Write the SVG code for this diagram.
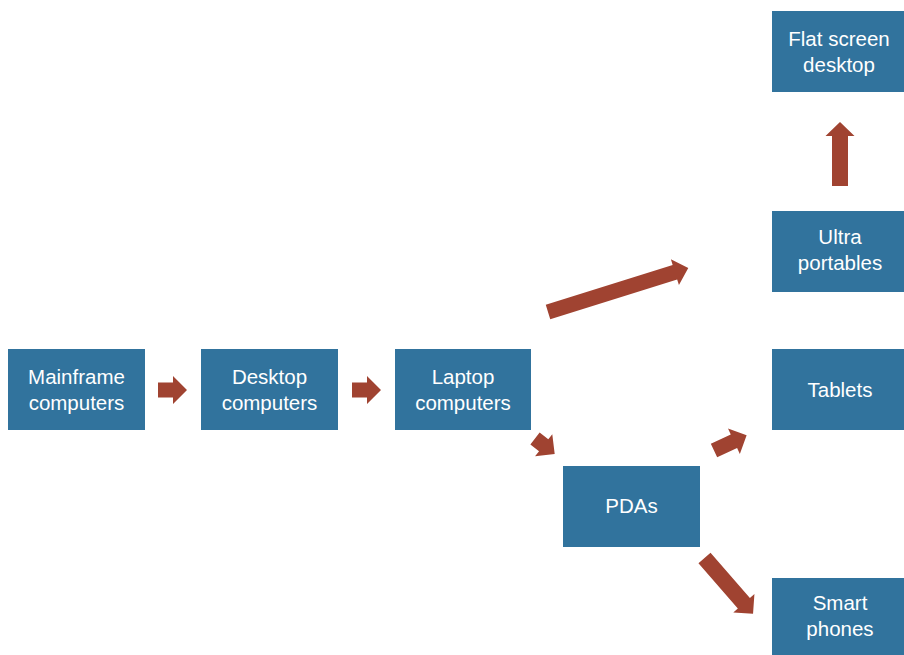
<svg xmlns="http://www.w3.org/2000/svg" width="904" height="655" viewBox="0 0 904 655">
<style>
.box{fill:#31739D}
.t{font-family:"Liberation Sans",Arial,sans-serif;font-size:20.5px;fill:#fff;text-anchor:middle;dominant-baseline:central}
.arr{fill:#A04331}
</style>
<rect width="904" height="655" fill="#fff"/>
<g id="connectors">
<path class="arr" transform="translate(158,390)" d="M0,-7.5H15V-14L29,0L15,14V7.5H0Z"/>
<path class="arr" transform="translate(352,390)" d="M0,-7.5H15V-14L29,0L15,14V7.5H0Z"/>
<path class="arr" transform="translate(535,438.5) rotate(38)" d="M0,-7.5H11V-14L25,0L11,14V7.5H0Z"/>
<path class="arr" transform="translate(548,312) rotate(-17.4)" d="M0,-7.5H133V-13.5L147,0L133,13.5V7.5H0Z"/>
<path class="arr" transform="translate(714,450.5) rotate(-25)" d="M0,-7.5H22V-14L36,0L22,14V7.5H0Z"/>
<path class="arr" transform="translate(704.5,558) rotate(49)" d="M0,-8H60V-14L74,0L60,14V8H0Z"/>
<path class="arr" transform="translate(840,186) rotate(-90)" d="M0,-8H50V-14.5L64,0L50,14.5V8H0Z"/>
</g>
<g id="mainframe"><rect class="box" x="8" y="349" width="137" height="81"/><text class="t" x="76.5" y="376">Mainframe</text><text class="t" x="76.5" y="402">computers</text></g>
<g id="desktop"><rect class="box" x="201" y="349" width="137" height="81"/><text class="t" x="269.5" y="376">Desktop</text><text class="t" x="269.5" y="402">computers</text></g>
<g id="laptop"><rect class="box" x="395" y="349" width="136" height="81"/><text class="t" x="463" y="376">Laptop</text><text class="t" x="463" y="402">computers</text></g>
<g id="pdas"><rect class="box" x="563" y="466" width="137" height="81"/><text class="t" x="631.5" y="505">PDAs</text></g>
<g id="flat"><rect class="box" x="772" y="11" width="132" height="81"/><text class="t" x="839" y="38">Flat screen</text><text class="t" x="839" y="64">desktop</text></g>
<g id="ultra"><rect class="box" x="772" y="211" width="132" height="81"/><text class="t" x="840" y="236">Ultra</text><text class="t" x="840" y="262">portables</text></g>
<g id="tablets"><rect class="box" x="772" y="349" width="132" height="81"/><text class="t" x="840" y="389">Tablets</text></g>
<g id="smart"><rect class="box" x="772" y="578" width="132" height="77"/><text class="t" x="840" y="602">Smart</text><text class="t" x="840" y="628">phones</text></g>
</svg>
